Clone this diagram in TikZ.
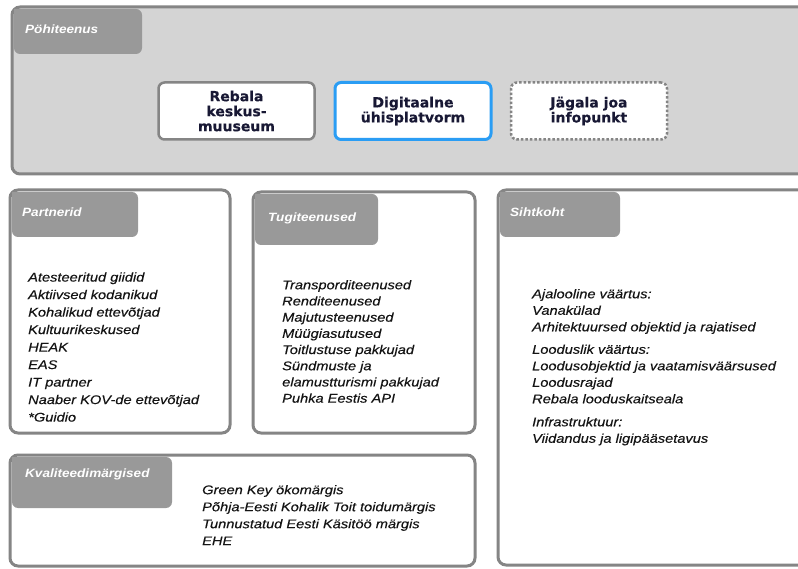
\documentclass[tikz,border=0pt]{standalone}
\usepackage{fontspec}
\setmainfont{Liberation Sans}
\newfontfamily\listfont[FakeStretch=1.16,FakeBold=0.3]{Liberation Sans}
\newfontfamily\headfont[FakeStretch=1.13]{Liberation Sans}
\newfontfamily\boxfont[FakeBold=0.4]{DejaVu Sans}
\definecolor{boxgray}{HTML}{858585}
\definecolor{tabgray}{HTML}{999999}
\definecolor{panelgray}{HTML}{D4D4D4}
\definecolor{txtdark}{HTML}{141414}
\definecolor{navy}{HTML}{181834}
\definecolor{bluebord}{HTML}{2A9DF4}
\tikzset{
  outerbox/.style={draw=boxgray, line width=3pt, rounded corners=8pt},
  tablabel/.style={anchor=base west, inner sep=0pt, text=white,
    font=\headfont\bfseries\itshape\fontsize{12}{14}\selectfont},
  listtext/.style={anchor=north west, inner sep=0pt, align=left, text=txtdark},
  servicebox/.style={fill=white, rounded corners=6pt, minimum width=156pt,
    minimum height=57pt, align=center, text=navy, inner sep=2pt,
    font=\boxfont\bfseries\fontsize{14}{15}\selectfont},
}
\begin{document}
\begin{tikzpicture}[x=1pt,y=-1pt]
\useasboundingbox (0,0) rectangle (798,569);
\fill[white] (0,0) rectangle (798,569);
\clip (0,0) rectangle (798,569);

% Top panel
\draw[outerbox, fill=panelgray] (12,7) rectangle (830,174);
\fill[tabgray] (14,9) [rounded corners=6pt] -- (142,9) -- (142,54) -- (14,54) [sharp corners] -- (14,9) -- cycle;
\node[tablabel] (hPohi) at (25,34) {Pöhiteenus};

\node[servicebox, draw=boxgray, line width=2.5pt] (rebala) at (236.5,111) {Rebala\\keskus-\\muuseum};
\node[servicebox, draw=bluebord, line width=3pt] (digi) at (413,111) {Digitaalne\\ühisplatvorm};
\node[servicebox, draw=boxgray, line width=2.5pt, dotted] (jagala) at (589,111) {Jägala joa\\infopunkt};

% Partnerid
\draw[outerbox, fill=white] (10,190) rectangle (230,433);
\fill[tabgray] (12,192) [rounded corners=6pt] -- (138,192) -- (138,237) -- (12,237) [sharp corners] -- (12,192) -- cycle;
\node[tablabel] (hPart) at (22,217) {Partnerid};
\node[listtext, font=\listfont\itshape\fontsize{12.6}{17.5}\selectfont] (partlist) at (28,269.1) {\strut Atesteeritud giidid\\Aktiivsed kodanikud\\Kohalikud ettevõtjad\\Kultuurikeskused\\HEAK\\EAS\\IT partner\\Naaber KOV-de ettevõtjad\\*Guidio};

% Tugiteenused
\draw[outerbox, fill=white] (253,192) rectangle (475,433);
\fill[tabgray] (255,194) [rounded corners=6pt] -- (378,194) -- (378,245) -- (255,245) [sharp corners] -- (255,194) -- cycle;
\node[tablabel] (hTugi) at (268,222) {Tugiteenused};
\node[listtext, font=\listfont\itshape\fontsize{12.6}{16.2}\selectfont] (tugilist) at (282,277.7) {\strut Transporditeenused\\Renditeenused\\Majutusteenused\\Müügiasutused\\Toitlustuse pakkujad\\Sündmuste ja\\elamustturismi pakkujad\\Puhka Eestis API};

% Sihtkoht
\draw[outerbox, fill=white] (498,190) rectangle (830,565);
\fill[tabgray] (500,192) [rounded corners=6pt] -- (620,192) -- (620,237) -- (500,237) [sharp corners] -- (500,192) -- cycle;
\node[tablabel] (hSiht) at (510,217) {Sihtkoht};
\node[listtext, font=\listfont\itshape\fontsize{12.6}{16.5}\selectfont] (sihtlist) at (532,286.5) {\strut Ajalooline väärtus:\\Vanakülad\\Arhitektuursed objektid ja rajatised\\[6pt]Looduslik väärtus:\\Loodusobjektid ja vaatamisväärsused\\Loodusrajad\\Rebala looduskaitseala\\[6.5pt]Infrastruktuur:\\Viidandus ja ligipääsetavus};

% Kvaliteedimargised
\draw[outerbox, fill=white] (10,455) rectangle (475,566);
\fill[tabgray] (12,457) [rounded corners=6pt] -- (172,457) -- (172,508) -- (12,508) [sharp corners] -- (12,457) -- cycle;
\node[tablabel] (hKval) at (25,477) {Kvaliteedimärgised};
\node[listtext, font=\listfont\itshape\fontsize{12.6}{17}\selectfont] (kvallist) at (202,482.1) {\strut Green Key ökomärgis\\Põhja-Eesti Kohalik Toit toidumärgis\\Tunnustatud Eesti Käsitöö märgis\\EHE};
\end{tikzpicture}
\end{document}
